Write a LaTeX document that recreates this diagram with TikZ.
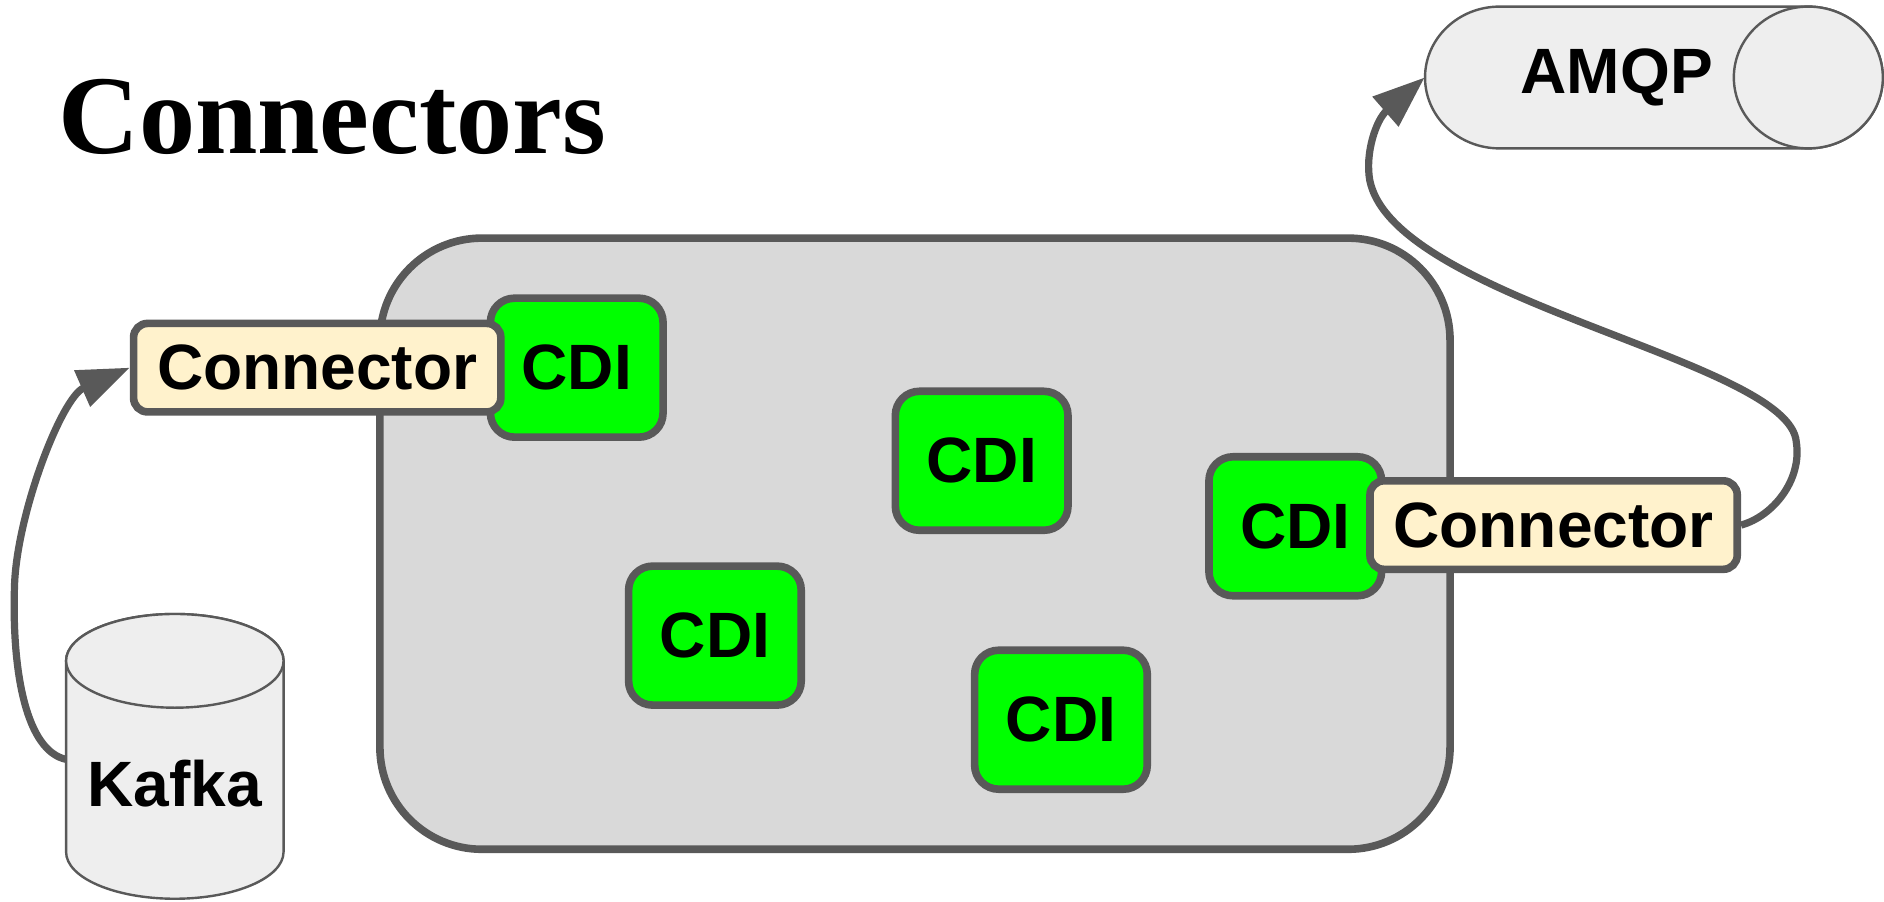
\documentclass[tikz,border=0pt]{standalone}
\usepackage{fontspec}
\setmainfont{Liberation Sans}
\newfontfamily\titlefont{Liberation Serif}
\usetikzlibrary{arrows.meta}
\definecolor{edge}{HTML}{595959}
\definecolor{hostgray}{HTML}{D9D9D9}
\definecolor{cdigreen}{HTML}{00FF00}
\definecolor{conyellow}{HTML}{FFF2CC}
\definecolor{cylgray}{HTML}{EEEEEE}
\begin{document}
\begin{tikzpicture}[x=0.6pt,y=-0.6pt,
  lbl/.style={font=\fontsize{32}{32}\bfseries\selectfont, text=black},
  cdibox/.style={draw=edge, fill=cdigreen, line width=3.8pt, rounded corners=12pt,
    minimum width=86.2pt, minimum height=69.4pt, inner sep=0pt, lbl},
  conbox/.style={draw=edge, fill=conyellow, line width=3.8pt, rounded corners=7pt,
    minimum width=183.4pt, minimum height=44.2pt, inner sep=0pt, lbl},
  hostbox/.style={draw=edge, fill=hostgray, line width=3.8pt, rounded corners=51pt,
    minimum width=534.4pt, minimum height=305.2pt, inner sep=0pt},
  cyl/.style={draw=edge, fill=cylgray, line width=1.2pt},
  flow/.style={draw=edge, line width=3.6pt, -{Triangle[length=26pt,width=19pt]}}
]
\useasboundingbox (0,0) rectangle (1568,750);
\fill[white] (0,0) rectangle (1568,750);

% title
\node[anchor=base west, inner sep=0pt, font=\titlefont\bfseries\fontsize{56}{60}\selectfont] (title) at (48,128) {Connectors};

% host container
\node[hostbox] (host) at (761.5,452.5) {};

% CDI beans
\node[cdibox] (cdi1) at (480,306) {CDI};
\node[cdibox] (cdi2) at (817,383.5) {CDI};
\node[cdibox] (cdi3) at (1078,438) {CDI};
\node[cdibox] (cdi4) at (595,529) {CDI};
\node[cdibox] (cdi5) at (883,599) {CDI};

% connectors
\node[conbox] (conL) at (264,306) {Connector};
\node[conbox] (conR) at (1293,437) {Connector};

% Kafka cylinder
\draw[cyl] (55,550) -- (55,709) arc[start angle=180, end angle=360, x radius=54.3pt, y radius=23.4pt]
  -- (236,550) arc[start angle=0, end angle=180, x radius=54.3pt, y radius=23.4pt] -- cycle;
\draw[cyl] (145.5,550) ellipse[x radius=54.3pt, y radius=23.4pt];
\node[lbl, inner sep=0pt] (kafka) at (145.5,652) {Kafka};
\coordinate (kafkaL) at (55,632);

% AMQP cylinder
\draw[cyl] (1505,5.5) -- (1248,5.5) arc[start angle=90, end angle=270, x radius=37.2pt, y radius=35.4pt]
  -- (1505,123.5) arc[start angle=-90, end angle=90, x radius=37.2pt, y radius=35.4pt] -- cycle;
\draw[cyl] (1505,64.5) ellipse[x radius=37.2pt, y radius=35.4pt];
\node[lbl, inner sep=0pt, minimum width=191.4pt] (amqp) at (1345.5,64.5) {AMQP};

% flows
\draw[flow] (kafkaL) .. controls (22,625) and (10,560) .. (12,490)
  .. controls (13,430) and (51,331) .. (conL.west);
\draw[flow] (conR.east) .. controls (1475,430) and (1500,400) .. (1495,368)
  .. controls (1490,300) and (1160,250) .. (1140,150)
  .. controls (1136,128) and (1145,100) .. (amqp.west);
\end{tikzpicture}
\end{document}
